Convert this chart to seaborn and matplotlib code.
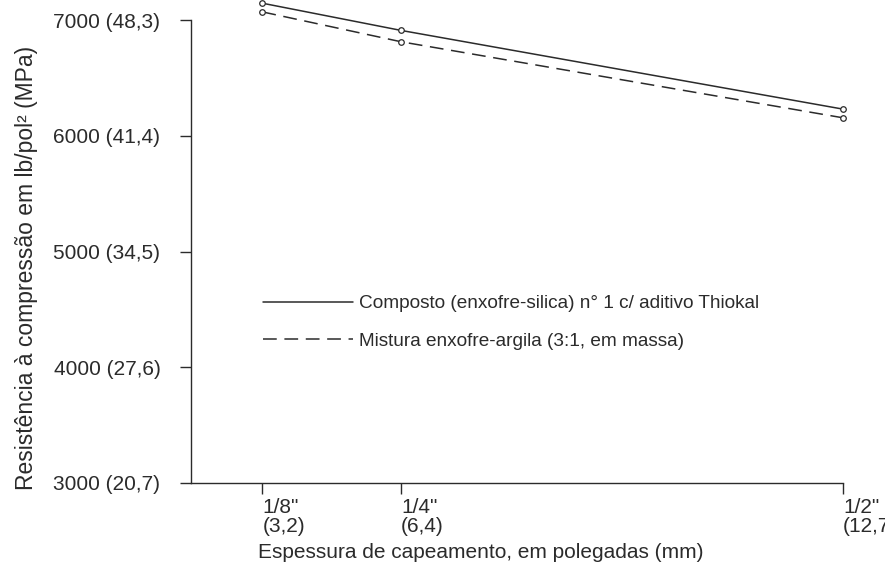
import numpy as np
import pandas as pd
import matplotlib
matplotlib.use("Agg")
import matplotlib.pyplot as plt
import seaborn as sns

# dados
espessura_mm = [3.2, 6.4, 12.7]
espessura_rotulos = ['1/8"\n(3,2)', '1/4"\n(6,4)', '1/2"\n(12,7)']
composto_thiokal = [7145, 6910, 6230]
mistura_argila = [7070, 6812, 6155]
y_ticks = [3000, 4000, 5000, 6000, 7000]
y_rotulos = ["3000 (20,7)", "4000 (27,6)", "5000 (34,5)", "6000 (41,4)", "7000 (48,3)"]
series = ["Composto (enxofre-silica) n° 1 c/ aditivo Thiokal",
          "Mistura enxofre-argila (3:1, em massa)"]

df = pd.DataFrame({
    "esp": espessura_mm * 2,
    "res": composto_thiokal + mistura_argila,
    "serie": [series[0]] * 3 + [series[1]] * 3,
})

sns.set_style("white")
plt.rcParams["font.family"] = ["Liberation Sans", "DejaVu Sans"]
cor = "#2b2b2b"
fs = 15

fig = plt.figure(figsize=(8.85, 5.68), dpi=100)
ax = fig.add_axes([191 / 885, 1 - 483 / 568, (843 - 191) / 885, (483 - 20) / 568])

# escala nao linear do eixo x (como no original)
p = 1.7
fwd = lambda x: np.sign(x) * np.abs(x) ** p
inv = lambda x: np.sign(x) * np.abs(x) ** (1 / p)
ax.set_xscale("function", functions=(fwd, inv))

sns.lineplot(data=df, x="esp", y="res", style="serie", color=cor,
             dashes={series[0]: "", series[1]: (9, 5)},
             markers={series[0]: "o", series[1]: "o"},
             markersize=4, markerfacecolor="white", markeredgecolor=cor,
             markeredgewidth=0.9, linewidth=1.1, ax=ax, clip_on=False)

ax.set_xlim(-1.08, 12.7)
ax.set_ylim(3000, 7000)
ax.set_xticks(espessura_mm)
ax.set_xticklabels(espessura_rotulos, ha="left", fontsize=fs, color=cor,
                   linespacing=1.0)
ax.set_yticks(y_ticks)
ax.set_yticklabels(y_rotulos, fontsize=fs, color=cor)
ax.tick_params(axis="both", direction="out", length=8, width=1, color=cor,
               left=True, bottom=True)
ax.tick_params(axis="y", pad=14)
ax.tick_params(axis="x", pad=3)
for s in ["top", "right"]:
    ax.spines[s].set_visible(False)
for s in ["left", "bottom"]:
    ax.spines[s].set_color(cor)
    ax.spines[s].set_linewidth(1)

ax.set_xlabel("Espessura de capeamento, em polegadas (mm)", fontsize=fs, color=cor)
ax.xaxis.set_label_coords((481 - 191) / 652, -(552 - 483) / 463)
ax.xaxis.label.set_va("center")
ax.set_ylabel("Resistência à compressão em lb/pol² (MPa)", fontsize=16.5, color=cor)
ax.yaxis.set_label_coords((38 - 191) / 652, (483 - 268) / 463)

handles, labels = ax.get_legend_handles_labels()
for h in handles:
    h.set_marker("")
ax.legend(handles, labels, frameon=False, fontsize=13.7, handlelength=4.7,
          handletextpad=0.35, labelspacing=1.05,
          loc="upper left", bbox_to_anchor=(246 / 885, 1 - 278 / 568),
          bbox_transform=fig.transFigure, labelcolor=cor)

fig.savefig("out.png", dpi=100)
